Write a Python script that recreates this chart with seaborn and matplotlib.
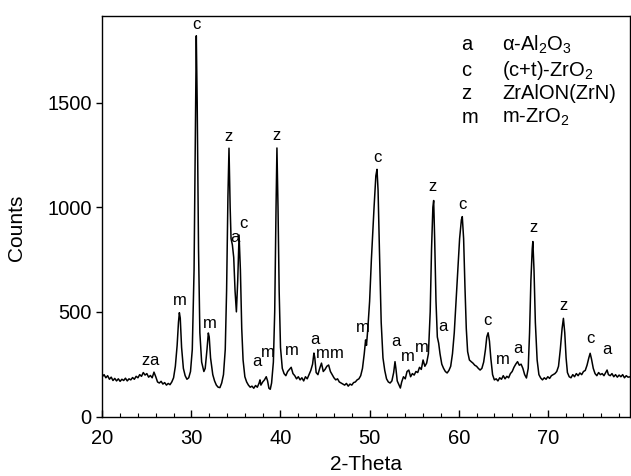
import matplotlib
matplotlib.use("Agg")
import matplotlib.pyplot as plt
import seaborn as sns
import pandas as pd

two_theta = [
    20.0, 20.2, 20.4, 20.6, 20.8, 21.0, 21.2, 21.4, 21.6, 21.8, 22.0, 22.2, 22.4, 22.6, 22.8,
    23.0, 23.2, 23.4, 23.6, 23.8, 24.0, 24.2, 24.4, 24.6, 24.8, 25.0, 25.2, 25.4, 25.6, 25.8,
    26.0, 26.2, 26.4, 26.6, 26.8, 27.0, 27.2, 27.4, 27.6, 27.8, 28.0, 28.2, 28.4, 28.55, 28.65,
    28.75, 28.9, 29.1, 29.3, 29.5, 29.7, 29.9, 30.1, 30.3, 30.45, 30.55, 30.65, 30.8, 30.95,
    31.15, 31.4, 31.55, 31.75, 31.9, 32.0, 32.15, 32.4, 32.6, 32.8, 33.0, 33.2, 33.4, 33.6,
    33.8, 33.95, 34.1, 34.22, 34.35, 34.45, 34.6, 34.75, 34.9, 35.05, 35.2, 35.35, 35.5, 35.65,
    35.8, 36.0, 36.2, 36.4, 36.6, 36.8, 37.0, 37.2, 37.4, 37.6, 37.7, 37.8, 38.0, 38.2, 38.4,
    38.55, 38.7, 38.85, 39.0, 39.2, 39.35, 39.5, 39.6, 39.72, 39.85, 40.0, 40.2, 40.4, 40.6,
    40.8, 41.0, 41.2, 41.4, 41.6, 41.8, 42.0, 42.2, 42.4, 42.6, 42.8, 43.0, 43.2, 43.4, 43.6,
    43.75, 43.85, 44.0, 44.2, 44.4, 44.6, 44.8, 45.0, 45.2, 45.4, 45.6, 45.8, 46.0, 46.2, 46.4,
    46.6, 46.8, 47.0, 47.2, 47.4, 47.6, 47.8, 48.0, 48.2, 48.4, 48.6, 48.8, 49.0, 49.2, 49.4,
    49.55, 49.65, 49.8, 50.0, 50.2, 50.5, 50.7, 50.83, 50.95, 51.1, 51.3, 51.5, 51.7, 51.9,
    52.1, 52.3, 52.5, 52.7, 52.85, 52.95, 53.1, 53.3, 53.45, 53.6, 53.8, 54.0, 54.2, 54.4,
    54.6, 54.8, 55.0, 55.2, 55.4, 55.6, 55.8, 56.0, 56.2, 56.4, 56.6, 56.8, 56.95, 57.1, 57.19,
    57.3, 57.45, 57.6, 57.75, 57.9, 58.1, 58.3, 58.5, 58.7, 58.9, 59.1, 59.3, 59.5, 59.7, 59.9,
    60.1, 60.3, 60.4, 60.55, 60.7, 60.85, 61.0, 61.2, 61.4, 61.6, 61.8, 62.0, 62.2, 62.4, 62.6,
    62.8, 63.0, 63.15, 63.3, 63.45, 63.6, 63.8, 64.0, 64.2, 64.4, 64.6, 64.8, 65.0, 65.2, 65.4,
    65.6, 65.8, 66.0, 66.2, 66.4, 66.6, 66.8, 67.0, 67.2, 67.4, 67.6, 67.8, 67.95, 68.1, 68.25,
    68.32, 68.45, 68.6, 68.8, 69.0, 69.2, 69.4, 69.6, 69.8, 70.0, 70.2, 70.4, 70.6, 70.8, 71.0,
    71.2, 71.4, 71.6, 71.75, 71.9, 72.05, 72.2, 72.4, 72.6, 72.8, 73.0, 73.2, 73.4, 73.6, 73.8,
    74.0, 74.2, 74.4, 74.6, 74.75, 74.9, 75.1, 75.3, 75.5, 75.7, 75.9, 76.1, 76.3, 76.5, 76.65,
    76.8, 77.0, 77.2, 77.4, 77.6, 77.8, 78.0, 78.2, 78.4, 78.6, 78.8, 79.0, 79.3,
]
counts = [
    190, 200, 185, 195, 178, 188, 172, 182, 170, 180, 168, 178, 172, 183, 170,
    180, 175, 186, 178, 192, 185, 200, 192, 210, 198, 205, 188, 196, 185, 212,
    190, 165, 160, 168, 155, 162, 150, 158, 152, 165, 185, 240, 340, 450, 496,
    470, 330, 230, 195, 178, 185, 215, 320, 700, 1400, 1819, 1500, 800, 400,
    260, 215, 230, 320, 399, 380, 280, 200, 170, 150, 140, 138, 160, 200,
    320, 600, 1050, 1282, 1000, 850, 820, 760, 600, 500, 650, 867, 700, 420,
    270, 190, 165, 150, 140, 145, 135, 148, 140, 160, 175, 150, 165, 175, 190,
    170, 135, 130, 160, 260, 500, 1000, 1283, 1000, 600, 330, 230, 205, 195,
    215, 225, 235, 205, 195, 180, 190, 175, 185, 170, 190, 180, 200, 220, 250,
    303, 280, 210, 200, 230, 255, 215, 225, 240, 246, 215, 200, 185, 175, 180,
    165, 160, 155, 150, 158, 145, 155, 150, 162, 165, 175, 180, 195, 230, 300,
    366, 340, 420, 550, 750, 1000, 1150, 1181, 1080, 800, 450, 280, 220, 180,
    165, 160, 170, 210, 262, 230, 170, 150, 136, 165, 190, 180, 215, 222,
    190, 205, 198, 215, 210, 235, 225, 270, 240, 255, 300, 500, 800, 1000, 1032,
    850, 550, 380, 350, 300, 250, 230, 215, 208, 220, 240, 300, 400, 550, 700,
    850, 940, 955, 850, 620, 420, 310, 270, 262, 255, 245, 240, 230, 222, 230,
    260, 320, 380, 400, 360, 280, 200, 175, 180, 170, 185, 178, 195, 180, 192,
    185, 205, 215, 235, 250, 262, 245, 250, 230, 200, 184, 230, 400, 650, 800,
    836, 700, 450, 270, 200, 184, 175, 185, 178, 190, 182, 195, 200, 205, 215,
    240, 320, 420, 469, 400, 280, 210, 190, 185, 200, 190, 205, 195, 208, 200,
    215, 220, 245, 280, 302, 275, 230, 205, 195, 210, 200, 205, 195, 210, 222,
    200, 195, 205, 190, 200, 188, 198, 190, 200, 185, 195, 188, 190,
]

# peak labels (phase letter, 2-theta, counts at label centre)
label_text = ["z", "a", "m", "c", "m", "z", "a", "c", "a", "m", "z", "m", "a", "m", "m",
              "m", "c", "a", "m", "m", "z", "a", "c", "c", "m", "a", "z", "z", "c", "a"]
label_x = [24.8, 25.8, 28.7, 30.58, 32.1, 34.2, 34.9, 35.8, 37.3, 38.6, 39.55, 41.3, 43.85, 44.75, 46.35,
           49.26, 50.85, 53.0, 54.3, 55.9, 57.1, 58.2, 60.47, 63.27, 64.96, 66.64, 68.4, 71.76, 74.78, 76.64]
label_y = [268, 268, 552, 1871, 442, 1336, 853, 920, 265, 308, 1345, 313, 370, 299, 299,
           425, 1238, 356, 289, 330, 1098, 429, 1011, 459, 270, 323, 903, 528, 375, 318]

legend_keys = ["a", "c", "z", "m"]
legend_names = [r"$\alpha$-Al$_2$O$_3$", r"(c+t)-ZrO$_2$", "ZrAlON(ZrN)", r"m-ZrO$_2$"]

x_ticks = [20, 30, 40, 50, 60, 70]
y_ticks = [0, 500, 1000, 1500]

# ---- styling ----
sns.set_theme(style="ticks")
plt.rcParams["font.family"] = ["Liberation Sans", "DejaVu Sans"]
plt.rcParams["mathtext.fontset"] = "custom"
plt.rcParams["mathtext.rm"] = "Liberation Sans"
plt.rcParams["mathtext.it"] = "Liberation Sans:italic"
plt.rcParams["mathtext.default"] = "regular"
plt.rcParams["text.color"] = "black"
plt.rcParams["axes.labelcolor"] = "black"

fig = plt.figure(figsize=(6.31, 4.76), dpi=100)
ax = fig.add_axes([0.1621, 0.125, 0.836, 0.842])

df = pd.DataFrame({"2-Theta": two_theta, "Counts": counts})
sns.lineplot(data=df, x="2-Theta", y="Counts", ax=ax, color="black",
             linewidth=1.1, estimator=None, sort=False)

ax.set_xlim(20, 79.2)
ax.set_ylim(0, 1915)
ax.set_xticks(x_ticks)
ax.set_xticks(list(range(22, 80, 2)), minor=True)
ax.set_yticks(y_ticks)
ax.tick_params(axis="x", which="major", direction="in", length=5, width=1, labelsize=14.5, pad=9, colors="black")
ax.tick_params(axis="x", which="minor", direction="in", length=3, width=0.8, colors="black")
ax.tick_params(axis="y", which="major", direction="out", length=4, width=1, labelsize=14.5, colors="black")
for s in ax.spines.values():
    s.set_color("black")
    s.set_linewidth(1.0)

ax.set_xlabel("2-Theta", fontsize=15, color="black")
ax.set_ylabel("Counts", fontsize=15, color="black")
ax.xaxis.set_label_coords(0.5, -0.096)
ax.yaxis.set_label_coords(-0.144, 0.47)

for t, xx, yy in zip(label_text, label_x, label_y):
    ax.text(xx, yy, t, ha="center", va="center", fontsize=12, color="black")

leg_y = [0.927, 0.864, 0.805, 0.747]
for k, n, yy in zip(legend_keys, legend_names, leg_y):
    ax.text(60.3, yy, k, transform=ax.get_xaxis_transform(), ha="left", va="center", fontsize=14.5, color="black")
    ax.text(64.9, yy, n, transform=ax.get_xaxis_transform(), ha="left", va="center", fontsize=14.5, color="black")

fig.savefig("out.png", dpi=100)
